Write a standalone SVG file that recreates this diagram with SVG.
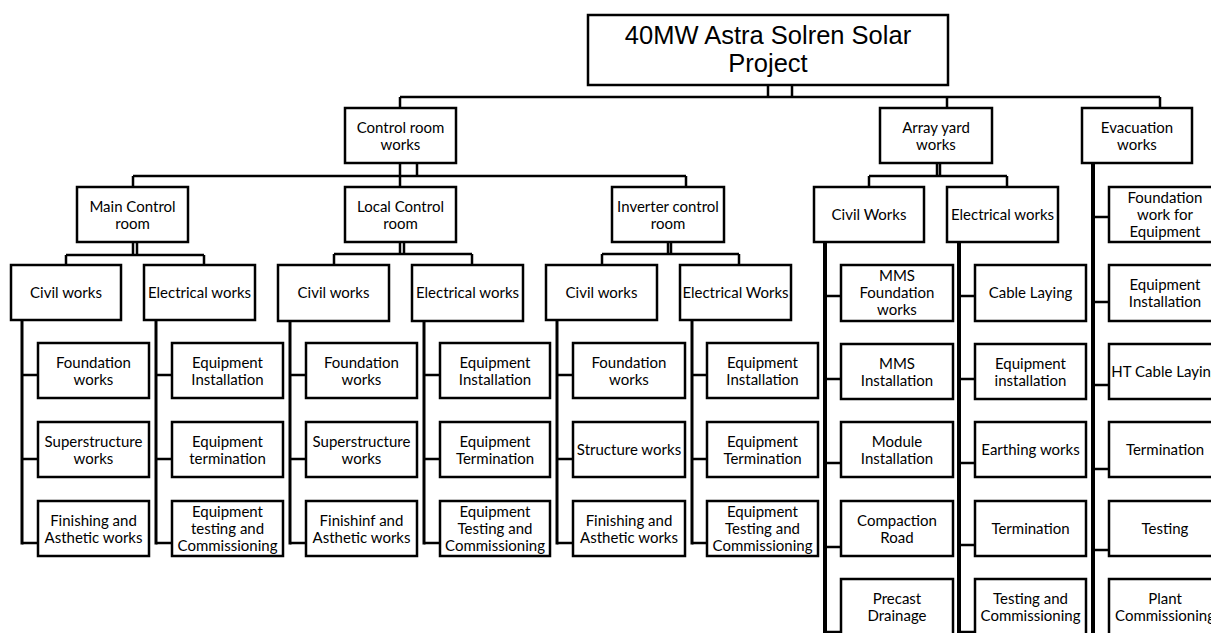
<svg xmlns="http://www.w3.org/2000/svg" width="1211" height="633" viewBox="0 0 1211 633">
  <style>
    .box { fill: #fff; stroke: #000; stroke-width: 2.5; }
    .t { font-family: Lato, "Noto Sans", sans-serif; font-size: 15px; text-anchor: middle; fill: #000; }
    .title { font-family: "Liberation Sans", Arial, sans-serif; font-size: 25.5px; text-anchor: middle; fill: #000; }
    .c { fill: none; stroke: #000; stroke-width: 2.5; }
    .sp { fill: none; stroke: #000; stroke-width: 3; }
    .s { fill: none; stroke: #000; stroke-width: 4; }
  </style>
  <rect width="1211" height="633" fill="#fff"/>

  <!-- connectors -->
  <g id="connectors">
    <path class="c" d="M768 85V97M792 85V97M400 97H1160M400 97V108M947 97V108M1160 97V108"/>
    <path class="c" d="M400 163V176M417 163V176M133 176H686M133 176V187M400 176V187M686 176V187"/>
    <path class="c" d="M937 163V176M940 163V176M869 176H1007M869 176V187M1007 176V187"/>
    <path class="c" d="M133 242V255M137 242V255M66 255H204M66 255V265M204 255V265"/>
    <path class="c" d="M400 242V254M404 242V254M334 254H472M334 254V265M472 254V265"/>
    <path class="c" d="M668 242V254M671 242V254M602 254H739M602 254V265M739 254V265"/>
    <path class="sp" d="M22 320V544.5M156 320V544.5M290 321V544.5M424 321V544.5M557 320V544.5M692 320V544.5"/>
    <path class="c" d="M22 375H38M22 459H38M22 543H38"/>
    <path class="c" d="M156 375H172M156 459H172M156 543H172"/>
    <path class="c" d="M290 375H306M290 459H306M290 543H306"/>
    <path class="c" d="M424 375H440M424 459H440M424 543H440"/>
    <path class="c" d="M557 375H573M557 459H573M557 543H573"/>
    <path class="c" d="M692 375H707M692 459H707M692 543H707"/>
    <path class="s" d="M825 242V640M959 242V640M1093 163V640"/>
    <path class="c" d="M825 296H841M825 379H841M825 463H841M825 547H841M825 632H841"/>
    <path class="c" d="M959 296H975M959 379H975M959 463H975M959 545H975M959 632H975"/>
    <path class="c" d="M1093 217H1109M1093 302H1109M1093 385H1109M1093 469H1109M1093 550H1109"/>
  </g>

  <!-- root -->
  <g id="root">
    <rect class="box" x="588" y="15" width="360" height="70"/>
    <text class="title"><tspan x="768" y="44">40MW Astra Solren Solar</tspan><tspan x="768" y="72">Project</tspan></text>
  </g>

  <!-- level 1 -->
  <g id="control-room-works">
    <rect class="box" x="345" y="108" width="111" height="55"/>
    <text class="t"><tspan x="400.5" y="132.5">Control room</tspan><tspan x="400.5" y="149.5">works</tspan></text>
  </g>
  <g id="array-yard-works">
    <rect class="box" x="880" y="108" width="112" height="55"/>
    <text class="t"><tspan x="936" y="132.5">Array yard</tspan><tspan x="936" y="149.5">works</tspan></text>
  </g>
  <g id="evacuation-works">
    <rect class="box" x="1082" y="108" width="110" height="55"/>
    <text class="t"><tspan x="1137" y="132.5">Evacuation</tspan><tspan x="1137" y="149.5">works</tspan></text>
  </g>

  <!-- level 2 -->
  <g id="main-control-room">
    <rect class="box" x="77" y="187" width="111" height="55"/>
    <text class="t"><tspan x="132.5" y="211.5">Main Control</tspan><tspan x="132.5" y="228.5">room</tspan></text>
  </g>
  <g id="local-control-room">
    <rect class="box" x="345" y="187" width="111" height="55"/>
    <text class="t"><tspan x="400.5" y="211.5">Local Control</tspan><tspan x="400.5" y="228.5">room</tspan></text>
  </g>
  <g id="inverter-control-room">
    <rect class="box" x="612" y="187" width="112" height="55"/>
    <text class="t"><tspan x="668" y="211.5">Inverter control</tspan><tspan x="668" y="228.5">room</tspan></text>
  </g>
  <g id="array-civil-works">
    <rect class="box" x="814" y="187" width="110" height="55"/>
    <text class="t" x="869" y="220">Civil Works</text>
  </g>
  <g id="array-electrical-works">
    <rect class="box" x="947" y="187" width="111" height="55"/>
    <text class="t" x="1002.5" y="220">Electrical works</text>
  </g>

  <!-- main control room branch -->
  <g id="mcr-civil">
    <rect class="box" x="11" y="265" width="110" height="55"/>
    <text class="t" x="66" y="298">Civil works</text>
  </g>
  <g id="mcr-electrical">
    <rect class="box" x="144" y="265" width="111" height="55"/>
    <text class="t" x="199.5" y="298">Electrical works</text>
  </g>
  <g id="mcr-foundation">
    <rect class="box" x="38" y="343" width="111" height="55"/>
    <text class="t"><tspan x="93.5" y="367.5">Foundation</tspan><tspan x="93.5" y="384.5">works</tspan></text>
  </g>
  <g id="mcr-superstructure">
    <rect class="box" x="38" y="422" width="111" height="55"/>
    <text class="t"><tspan x="93.5" y="446.5">Superstructure</tspan><tspan x="93.5" y="463.5">works</tspan></text>
  </g>
  <g id="mcr-finishing">
    <rect class="box" x="38" y="501" width="111" height="55"/>
    <text class="t"><tspan x="93.5" y="525.5">Finishing and</tspan><tspan x="93.5" y="542.5">Asthetic works</tspan></text>
  </g>
  <g id="mcr-eq-installation">
    <rect class="box" x="172" y="343" width="111" height="55"/>
    <text class="t"><tspan x="227.5" y="367.5">Equipment</tspan><tspan x="227.5" y="384.5">Installation</tspan></text>
  </g>
  <g id="mcr-eq-termination">
    <rect class="box" x="172" y="422" width="111" height="55"/>
    <text class="t"><tspan x="227.5" y="446.5">Equipment</tspan><tspan x="227.5" y="463.5">termination</tspan></text>
  </g>
  <g id="mcr-eq-testing">
    <rect class="box" x="172" y="501" width="111" height="55"/>
    <text class="t"><tspan x="227.5" y="517">Equipment</tspan><tspan x="227.5" y="534">testing and</tspan><tspan x="227.5" y="551">Commissioning</tspan></text>
  </g>

  <!-- local control room branch -->
  <g id="lcr-civil">
    <rect class="box" x="278" y="265" width="111" height="56"/>
    <text class="t" x="333.5" y="298">Civil works</text>
  </g>
  <g id="lcr-electrical">
    <rect class="box" x="412" y="265" width="111" height="56"/>
    <text class="t" x="467.5" y="298">Electrical works</text>
  </g>
  <g id="lcr-foundation">
    <rect class="box" x="306" y="343" width="111" height="55"/>
    <text class="t"><tspan x="361.5" y="367.5">Foundation</tspan><tspan x="361.5" y="384.5">works</tspan></text>
  </g>
  <g id="lcr-superstructure">
    <rect class="box" x="306" y="422" width="111" height="55"/>
    <text class="t"><tspan x="361.5" y="446.5">Superstructure</tspan><tspan x="361.5" y="463.5">works</tspan></text>
  </g>
  <g id="lcr-finishing">
    <rect class="box" x="306" y="501" width="111" height="55"/>
    <text class="t"><tspan x="361.5" y="525.5">Finishinf and</tspan><tspan x="361.5" y="542.5">Asthetic works</tspan></text>
  </g>
  <g id="lcr-eq-installation">
    <rect class="box" x="440" y="343" width="110" height="55"/>
    <text class="t"><tspan x="495" y="367.5">Equipment</tspan><tspan x="495" y="384.5">Installation</tspan></text>
  </g>
  <g id="lcr-eq-termination">
    <rect class="box" x="440" y="422" width="110" height="55"/>
    <text class="t"><tspan x="495" y="446.5">Equipment</tspan><tspan x="495" y="463.5">Termination</tspan></text>
  </g>
  <g id="lcr-eq-testing">
    <rect class="box" x="440" y="501" width="110" height="55"/>
    <text class="t"><tspan x="495" y="517">Equipment</tspan><tspan x="495" y="534">Testing and</tspan><tspan x="495" y="551">Commissioning</tspan></text>
  </g>

  <!-- inverter control room branch -->
  <g id="icr-civil">
    <rect class="box" x="546" y="265" width="111" height="55"/>
    <text class="t" x="601.5" y="298">Civil works</text>
  </g>
  <g id="icr-electrical">
    <rect class="box" x="680" y="265" width="111" height="55"/>
    <text class="t" x="735.5" y="298">Electrical Works</text>
  </g>
  <g id="icr-foundation">
    <rect class="box" x="573" y="343" width="112" height="55"/>
    <text class="t"><tspan x="629" y="367.5">Foundation</tspan><tspan x="629" y="384.5">works</tspan></text>
  </g>
  <g id="icr-structure">
    <rect class="box" x="573" y="422" width="112" height="55"/>
    <text class="t" x="629" y="455">Structure works</text>
  </g>
  <g id="icr-finishing">
    <rect class="box" x="573" y="501" width="112" height="55"/>
    <text class="t"><tspan x="629" y="525.5">Finishing and</tspan><tspan x="629" y="542.5">Asthetic works</tspan></text>
  </g>
  <g id="icr-eq-installation">
    <rect class="box" x="707" y="343" width="111" height="55"/>
    <text class="t"><tspan x="762.5" y="367.5">Equipment</tspan><tspan x="762.5" y="384.5">Installation</tspan></text>
  </g>
  <g id="icr-eq-termination">
    <rect class="box" x="707" y="422" width="111" height="55"/>
    <text class="t"><tspan x="762.5" y="446.5">Equipment</tspan><tspan x="762.5" y="463.5">Termination</tspan></text>
  </g>
  <g id="icr-eq-testing">
    <rect class="box" x="707" y="501" width="111" height="55"/>
    <text class="t"><tspan x="762.5" y="517">Equipment</tspan><tspan x="762.5" y="534">Testing and</tspan><tspan x="762.5" y="551">Commissioning</tspan></text>
  </g>

  <!-- array yard civil works -->
  <g id="mms-foundation">
    <rect class="box" x="841" y="265" width="112" height="56"/>
    <text class="t"><tspan x="897" y="281">MMS</tspan><tspan x="897" y="298">Foundation</tspan><tspan x="897" y="315">works</tspan></text>
  </g>
  <g id="mms-installation">
    <rect class="box" x="841" y="344" width="112" height="55"/>
    <text class="t"><tspan x="897" y="368.5">MMS</tspan><tspan x="897" y="385.5">Installation</tspan></text>
  </g>
  <g id="module-installation">
    <rect class="box" x="841" y="422" width="112" height="55"/>
    <text class="t"><tspan x="897" y="446.5">Module</tspan><tspan x="897" y="463.5">Installation</tspan></text>
  </g>
  <g id="compaction-road">
    <rect class="box" x="841" y="501" width="112" height="55"/>
    <text class="t"><tspan x="897" y="525.5">Compaction</tspan><tspan x="897" y="542.5">Road</tspan></text>
  </g>
  <g id="precast-drainage">
    <rect class="box" x="841" y="579" width="112" height="60"/>
    <text class="t"><tspan x="897" y="603.5">Precast</tspan><tspan x="897" y="620.5">Drainage</tspan></text>
  </g>

  <!-- array yard electrical works -->
  <g id="cable-laying">
    <rect class="box" x="975" y="265" width="111" height="56"/>
    <text class="t" x="1030.5" y="298">Cable Laying</text>
  </g>
  <g id="array-eq-installation">
    <rect class="box" x="975" y="344" width="111" height="55"/>
    <text class="t"><tspan x="1030.5" y="368.5">Equipment</tspan><tspan x="1030.5" y="385.5">installation</tspan></text>
  </g>
  <g id="earthing-works">
    <rect class="box" x="975" y="422" width="111" height="55"/>
    <text class="t" x="1030.5" y="455">Earthing works</text>
  </g>
  <g id="array-termination">
    <rect class="box" x="975" y="501" width="111" height="55"/>
    <text class="t" x="1030.5" y="534">Termination</text>
  </g>
  <g id="array-testing">
    <rect class="box" x="975" y="579" width="111" height="60"/>
    <text class="t"><tspan x="1030.5" y="603.5">Testing and</tspan><tspan x="1030.5" y="620.5">Commissioning</tspan></text>
  </g>

  <!-- evacuation works -->
  <g id="evac-foundation">
    <rect class="box" x="1109" y="187" width="112" height="55"/>
    <text class="t"><tspan x="1165" y="203">Foundation</tspan><tspan x="1165" y="220">work for</tspan><tspan x="1165" y="237">Equipment</tspan></text>
  </g>
  <g id="evac-eq-installation">
    <rect class="box" x="1109" y="265" width="112" height="56"/>
    <text class="t"><tspan x="1165" y="289.5">Equipment</tspan><tspan x="1165" y="306.5">Installation</tspan></text>
  </g>
  <g id="ht-cable-laying">
    <rect class="box" x="1109" y="344" width="112" height="55"/>
    <text class="t" x="1165" y="377">HT Cable Laying</text>
  </g>
  <g id="evac-termination">
    <rect class="box" x="1109" y="422" width="112" height="55"/>
    <text class="t" x="1165" y="455">Termination</text>
  </g>
  <g id="evac-testing">
    <rect class="box" x="1109" y="501" width="112" height="55"/>
    <text class="t" x="1165" y="534">Testing</text>
  </g>
  <g id="plant-commissioning">
    <rect class="box" x="1109" y="579" width="112" height="60"/>
    <text class="t"><tspan x="1165" y="603.5">Plant</tspan><tspan x="1165" y="620.5">Commissioning</tspan></text>
  </g>
</svg>
